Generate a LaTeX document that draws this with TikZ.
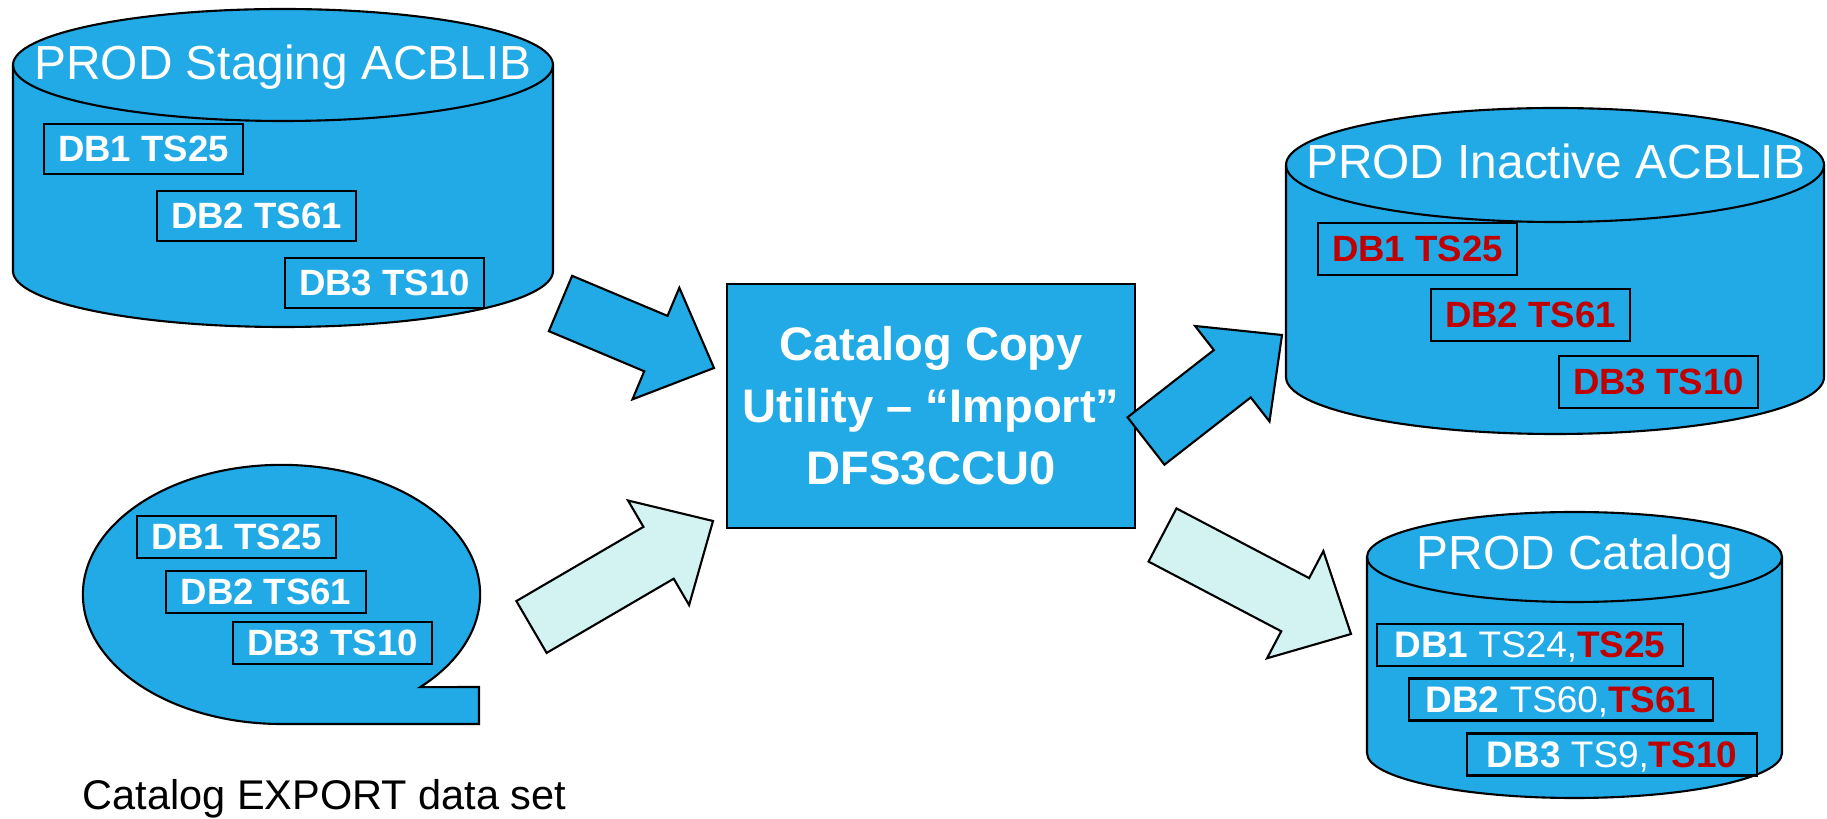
\documentclass[tikz,border=0pt]{standalone}
\usepackage{fontspec}
\setmainfont{Liberation Sans}
\usepackage{xcolor}
\usetikzlibrary{calc}

\definecolor{dbblue}{RGB}{33,170,230}
\definecolor{paleblue}{RGB}{211,243,243}
\definecolor{tsred}{RGB}{192,0,0}

% cylinder: centre x, top y, bottom y, x radius, y radius
\newcommand{\dbcyl}[5]{%
	\filldraw[dbshape] ({#1-#4},#2) -- ({#1-#4},#3)
		arc[start angle=180, end angle=360, x radius=#4*0.01cm, y radius=#5*0.01cm]
		-- ({#1+#4},#2)
		arc[start angle=0, end angle=180, x radius=#4*0.01cm, y radius=#5*0.01cm] -- cycle;
	\draw[dbline] ({#1-#4},#2)
		arc[start angle=180, end angle=360, x radius=#4*0.01cm, y radius=#5*0.01cm];
}
% block arrow: style, tail, tip
\newcommand{\fatarrow}[3]{%
	\coordinate (#2-n) at ($(#3)!0.63cm!(#2)$);
	\filldraw[#1] ($(#2)!0.3cm!90:(#3)$) -- ($(#2-n)!0.3cm!90:(#3)$)
		-- ($(#2-n)!0.605cm!90:(#3)$) -- (#3)
		-- ($(#2-n)!0.605cm!-90:(#3)$) -- ($(#2-n)!0.3cm!-90:(#3)$)
		-- ($(#2)!0.3cm!-90:(#3)$) -- cycle;
}

\begin{document}
\begin{tikzpicture}[x=0.01cm, y=-0.01cm,
		dbshape/.style={fill=dbblue, draw=black, line width=0.6pt},
		paleshape/.style={fill=paleblue, draw=black, line width=0.6pt},
		dbline/.style={draw=black, line width=0.6pt},
		dbtitle/.style={text=white, anchor=base, inner sep=0pt, font=\fontsize{13.6}{16}\selectfont},
		tsbox/.style={draw=black, line width=0.6pt, text=white, inner sep=0pt,
			minimum width=1.99cm, minimum height=0.5cm, font=\fontsize{10.4}{12}\selectfont\bfseries},
		redbox/.style={tsbox, text=tsred, minimum height=0.52cm},
		exbox/.style={tsbox, minimum height=0.42cm},
		catbox/.style={tsbox, minimum height=0.42cm, text depth=0pt, font=\fontsize{10.5}{12}\selectfont\bfseries},
		ccubox/.style={fill=dbblue, draw=black, line width=0.6pt, text=white, align=center,
			minimum width=4.08cm, minimum height=2.44cm, font=\fontsize{13.4}{17.6}\selectfont\bfseries}]
	\useasboundingbox (0,0) rectangle (1827,819);
	%
	\dbcyl{283}{65}{271}{270}{56}
	\node[dbtitle] (stgT) at (283,80) {PROD Staging ACBLIB};
	\node[tsbox] (stg1) at (143.5,149) {DB1 TS25};
	\node[tsbox] (stg2) at (256.5,216) {DB2 TS61};
	\node[tsbox] (stg3) at (384.5,283) {DB3 TS10};
	%
	\filldraw[dbshape] (281.5,724)
		arc[start angle=270, end angle=-45.7, x radius=1.985cm, y radius=1.295cm]
		-- (479,687) -- (479,724) -- cycle;
	\node[exbox] (exp1) at (236.5,537) {DB1 TS25};
	\node[exbox] (exp2) at (266,592) {DB2 TS61};
	\node[exbox] (exp3) at (332.5,643) {DB3 TS10};
	\node[anchor=base west, inner sep=0pt, font=\fontsize{11.8}{14}\selectfont] (expT) at (82,810) {Catalog EXPORT data set};
	%
	\node[ccubox] (ccu) at (931,406) {Catalog Copy\\Utility – “Import”\\DFS3CCU0};
	%
	\dbcyl{1555}{165}{377}{269}{57}
	\node[dbtitle] (inaT) at (1556,179) {PROD Inactive ACBLIB};
	\node[redbox] (ina1) at (1417.5,249) {DB1 TS25};
	\node[redbox] (ina2) at (1530.5,315) {DB2 TS61};
	\node[redbox] (ina3) at (1658.5,382) {DB3 TS10};
	%
	\dbcyl{1574.5}{557}{753}{207.5}{45}
	\node[dbtitle] (catT) at (1575,570) {PROD Catalog};
	\node[catbox, minimum width=3.06cm] (cat1) at (1530,645) {DB1 \textmd{TS24,}\textcolor{tsred}{TS25}};
	\node[catbox, minimum width=3.04cm] (cat2) at (1561,699.5) {DB2 \textmd{TS60,}\textcolor{tsred}{TS61}};
	\node[catbox, minimum width=2.90cm] (cat3) at (1612,754.5) {DB3 \textmd{TS9,}\textcolor{tsred}{TS10}};
	%
	\coordinate (a1s) at (560.5,303.5);
	\coordinate (a1e) at (714,368);
	\coordinate (a2s) at (531.5,627);
	\coordinate (a2e) at (713,521);
	\coordinate (a3s) at (1146,441);
	\coordinate (a3e) at (1282,335);
	\coordinate (a4s) at (1162.5,535);
	\coordinate (a4e) at (1351,634);
	\fatarrow{dbshape}{a1s}{a1e}
	\fatarrow{paleshape}{a2s}{a2e}
	\fatarrow{dbshape}{a3s}{a3e}
	\fatarrow{paleshape}{a4s}{a4e}
\end{tikzpicture}
\end{document}
